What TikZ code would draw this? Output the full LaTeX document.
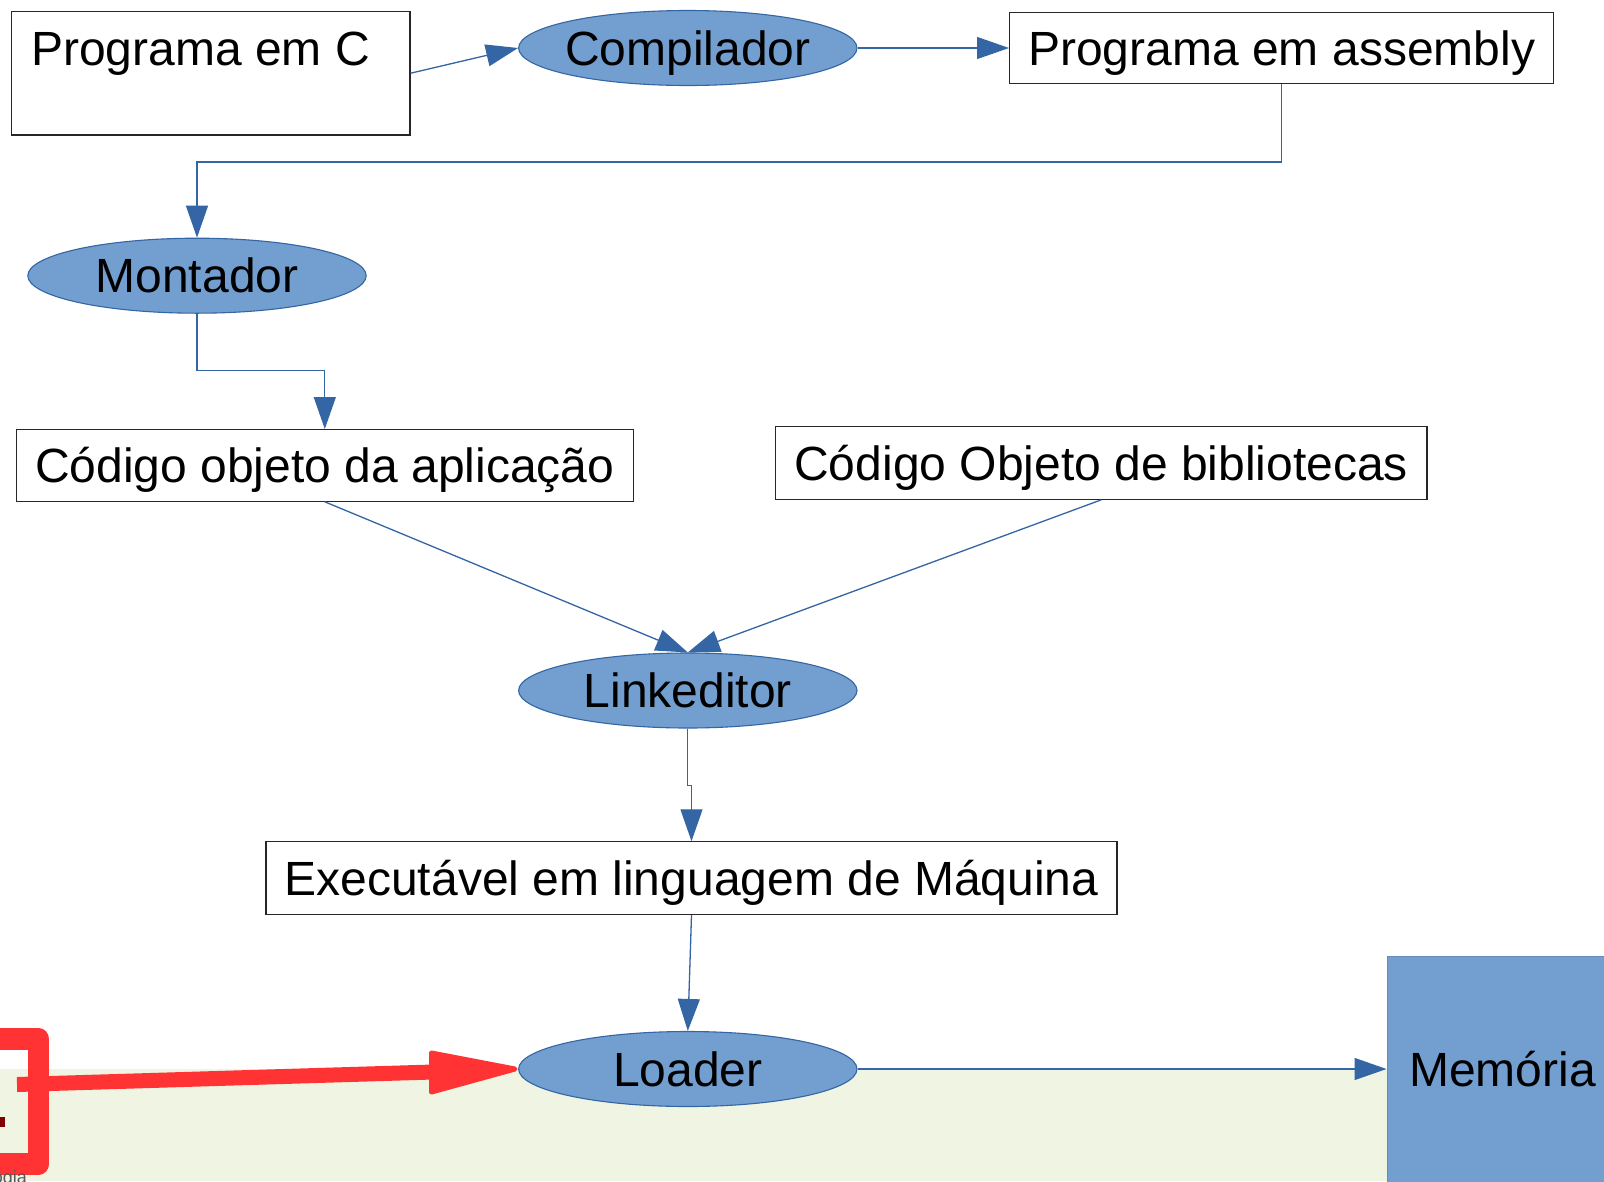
\documentclass[tikz,border=0pt]{standalone}
\usepackage{fontspec}
\setmainfont{Liberation Sans}
\usetikzlibrary{arrows.meta,shapes.geometric,calc}
\definecolor{eblue}{HTML}{729FCF}
\definecolor{lblue}{HTML}{3465A4}
\definecolor{bandgreen}{RGB}{240,245,227}
\definecolor{redmark}{HTML}{FF3333}
\definecolor{darkred}{HTML}{800000}
\begin{document}
\begin{tikzpicture}[x=1pt,y=-1pt,
  every node/.style={font=\fontsize{48}{58}\selectfont, inner sep=0pt, text height=34.4pt, text depth=0pt},
  box/.style={rectangle, draw=black!85, line width=1.2pt, fill=white},
  ell/.style={ellipse, draw=lblue, line width=1.1pt, fill=eblue, minimum width=338.4pt, minimum height=75pt},
  conn/.style={draw=lblue, line width=1.3pt},
  arr/.style={conn, -{Triangle[length=32pt,width=22pt]}, color=lblue}
]
\useasboundingbox (0,0) rectangle (1604,1181);
\clip (0,0) rectangle (1604,1181);
\fill[white] (0,0) rectangle (1604,1181);
\fill[bandgreen] (0,1069) rectangle (1387,1181);

% nodes
\node[box, minimum width=398.7pt, minimum height=123.7pt] (pc) at (210.7,73.2) {};
\node[anchor=base west] (pctext) at (31,65) {Programa em C};
\node[ell] (comp) at (687.8,48) {\makebox[0pt]{Compilador}};
\node[box, minimum width=544.2pt, minimum height=71.6pt] (asm) at (1281.7,48) {Programa em assembly};
\node[ell] (mont) at (197,275.7) {\makebox[0pt]{Montador}};
\node[box, minimum width=616.8pt, minimum height=71.6pt] (app) at (324.8,465.4) {Código objeto da aplicação};
\node[box, minimum width=651.6pt, minimum height=72.7pt] (lib) at (1101.2,462.9) {Código Objeto de bibliotecas};
\node[ell] (link) at (687.8,690.5) {\makebox[0pt]{Linkeditor}};
\node[box, minimum width=851pt, minimum height=72.7pt] (exe) at (691.5,878.2) {Executável em linguagem de Máquina};
\node[ell] (load) at (687.8,1069) {\makebox[0pt]{Loader}};
\node[rectangle, fill=eblue, draw=lblue!75, line width=1pt, minimum width=231pt, minimum height=226pt] (mem) at (1502.5,1069) {Memória};

% connectors
\draw[arr] (pc.east) -- (comp.west);
\draw[arr] (comp.east) -- (asm.west);
\draw[arr] (asm.south) -- ++(0,77.6) -| (mont.north);
\draw[arr] (mont.south) -- ++(0,57) -| (app.north);
\draw[arr] (app.south) -- (link.north);
\draw[arr] (lib.south) -- (link.north);
\draw[arr] (link.south) -- ++(0,57) -| (exe.north);
\draw[arr] (exe.south) -- (load.north);
\draw[arr] (load.east) -- (mem.west);

% red annotation
\draw[redmark, line width=21.5pt, line join=round] (-15,1039) -- (38.5,1039) -- (38.5,1164) -- (-15,1164);
\fill[darkred] (0,1117) rectangle (4.6,1127);
\coordinate (redstart) at (17,1084.5);
\coordinate (redbase) at (433,1072);
\draw[redmark, line width=15pt] (redstart) -- (redbase);
\filldraw[redmark, line width=5pt, line join=round] (431.5,1053) -- ($(load.west)+(-3,0)$) -- (431.5,1092) -- cycle;
\node[anchor=base east, font=\fontsize{18}{20}\selectfont, text=black!65, text height=13pt, text depth=4pt] (ogia) at (27,1183) {ogia};
\end{tikzpicture}
\end{document}
